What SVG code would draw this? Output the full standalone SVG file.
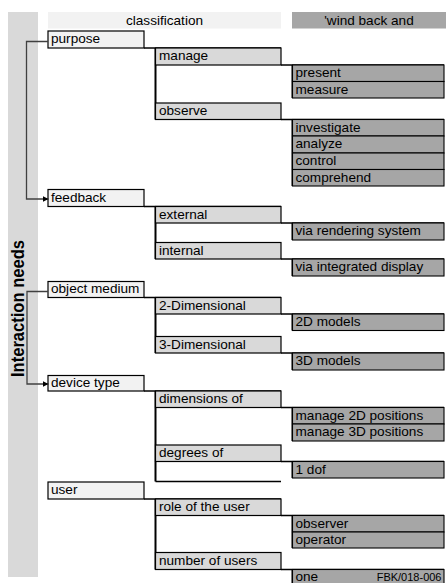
<svg xmlns="http://www.w3.org/2000/svg" width="446" height="583" viewBox="0 0 446 583">
<style>
.t{font-family:"Liberation Sans",Arial,sans-serif;font-size:13.6px;fill:#000}
.h{text-anchor:middle}
.l1{fill:#f2f2f2;stroke:#000;stroke-width:1.2}
.l2{fill:#d9d9d9;stroke:#000;stroke-width:1.2}
.l3{fill:#a6a6a6;stroke:#000;stroke-width:1.1}
.b{stroke:#000;stroke-width:1.6;fill:none}
.v{stroke:#000;stroke-width:2;fill:none}
.c{stroke:#404040;stroke-width:1.3;fill:none;marker-end:url(#ah)}
</style>
<defs>
<marker id="ah" markerUnits="userSpaceOnUse" markerWidth="6" markerHeight="6" refX="6" refY="3" orient="auto">
<path d="M0,0 L6,3 L0,6 z" fill="#000"/>
</marker>
</defs>
<rect x="0" y="0" width="446" height="583" fill="#fff"/>
<g id="band">
<rect x="8" y="12" width="30" height="565" fill="#d9d9d9"/>
<text class="t" transform="translate(24,308.5) rotate(-90)" text-anchor="middle" font-size="18" font-weight="bold" style="font-size:18px;font-weight:bold" textLength="137" lengthAdjust="spacingAndGlyphs">Interaction needs</text>
</g>
<g id="headers">
<rect x="48" y="12" width="233" height="16.5" fill="#f2f2f2"/>
<text class="t h" x="164.5" y="24.5">classification</text>
<rect x="292" y="12" width="154" height="16.5" fill="#a6a6a6"/>
<text class="t h" x="369" y="24.5">'wind back and</text>
</g>
<g id="borders">
<line class="b" x1="144" y1="48" x2="281" y2="48"/>
<line class="b" x1="281" y1="65" x2="444" y2="65"/>
<line class="b" x1="281" y1="119.5" x2="444" y2="119.5"/>
<line class="v" x1="155.5" y1="48" x2="155.5" y2="119.5"/>
<line class="v" x1="292.5" y1="65" x2="292.5" y2="98"/>
<line class="v" x1="292.5" y1="119.5" x2="292.5" y2="186"/>
<line class="b" x1="144" y1="206.5" x2="281" y2="206.5"/>
<line class="b" x1="281" y1="223" x2="444" y2="223"/>
<line class="b" x1="281" y1="259" x2="444" y2="259"/>
<line class="v" x1="155.5" y1="206.5" x2="155.5" y2="259"/>
<line class="v" x1="292.5" y1="223" x2="292.5" y2="240"/>
<line class="v" x1="292.5" y1="259" x2="292.5" y2="276"/>
<line class="b" x1="144" y1="297.5" x2="281" y2="297.5"/>
<line class="b" x1="281" y1="314" x2="444" y2="314"/>
<line class="b" x1="281" y1="353" x2="444" y2="353"/>
<line class="v" x1="155.5" y1="297.5" x2="155.5" y2="353"/>
<line class="v" x1="292.5" y1="314" x2="292.5" y2="330.5"/>
<line class="v" x1="292.5" y1="353" x2="292.5" y2="370"/>
<line class="b" x1="144" y1="391" x2="281" y2="391"/>
<line class="b" x1="281" y1="407.5" x2="444" y2="407.5"/>
<line class="b" x1="281" y1="461.5" x2="444" y2="461.5"/>
<line class="v" x1="155.5" y1="391" x2="155.5" y2="481.5"/>
<line class="b" x1="155.5" y1="481.5" x2="281" y2="481.5"/>
<line class="v" x1="292.5" y1="407.5" x2="292.5" y2="441"/>
<line class="v" x1="292.5" y1="461.5" x2="292.5" y2="478"/>
<line class="b" x1="144" y1="499" x2="281" y2="499"/>
<line class="b" x1="281" y1="515.5" x2="444" y2="515.5"/>
<line class="b" x1="281" y1="569.5" x2="444" y2="569.5"/>
<line class="v" x1="155.5" y1="499" x2="155.5" y2="569.5"/>
<line class="v" x1="292.5" y1="515.5" x2="292.5" y2="548"/>
<line class="v" x1="292.5" y1="569.5" x2="292.5" y2="583"/>
</g>
<g id="purpose"><rect class="l1" x="48" y="31" width="96" height="17"/><text class="t" x="51" y="43">purpose</text></g>
<g id="manage"><rect class="l2" x="155.5" y="48" width="125.5" height="17"/><text class="t" x="159" y="60">manage</text></g>
<g id="present"><rect class="l3" x="292.5" y="65" width="151.5" height="16.5"/><text class="t" x="295.5" y="77">present</text></g>
<g id="measure"><rect class="l3" x="292.5" y="81.5" width="151.5" height="16.5"/><text class="t" x="295.5" y="93.5">measure</text></g>
<g id="observe"><rect class="l2" x="155.5" y="103" width="125.5" height="16.5"/><text class="t" x="159" y="115">observe</text></g>
<g id="investigate"><rect class="l3" x="292.5" y="119.5" width="151.5" height="16.5"/><text class="t" x="295.5" y="131.5">investigate</text></g>
<g id="analyze"><rect class="l3" x="292.5" y="136" width="151.5" height="17"/><text class="t" x="295.5" y="148">analyze</text></g>
<g id="control"><rect class="l3" x="292.5" y="153" width="151.5" height="16.5"/><text class="t" x="295.5" y="165">control</text></g>
<g id="comprehend"><rect class="l3" x="292.5" y="169.5" width="151.5" height="16.5"/><text class="t" x="295.5" y="181.5">comprehend</text></g>
<g id="feedback"><rect class="l1" x="48" y="189.5" width="96" height="17"/><text class="t" x="51" y="201.5">feedback</text></g>
<g id="external"><rect class="l2" x="155.5" y="206.5" width="125.5" height="16.5"/><text class="t" x="159" y="218.5">external</text></g>
<g id="via-rendering"><rect class="l3" x="292.5" y="223" width="151.5" height="17"/><text class="t" x="295.5" y="235">via rendering system</text></g>
<g id="internal"><rect class="l2" x="155.5" y="242.5" width="125.5" height="16.5"/><text class="t" x="159" y="254.5">internal</text></g>
<g id="via-integrated"><rect class="l3" x="292.5" y="259" width="151.5" height="17"/><text class="t" x="295.5" y="271">via integrated display</text></g>
<g id="object-medium"><rect class="l1" x="48" y="281.5" width="96" height="16"/><text class="t" x="51" y="293">object medium</text></g>
<g id="two-dim"><rect class="l2" x="155.5" y="297.5" width="125.5" height="16.5"/><text class="t" x="159" y="309.5">2-Dimensional</text></g>
<g id="2d-models"><rect class="l3" x="292.5" y="314" width="151.5" height="16.5"/><text class="t" x="295.5" y="326">2D models</text></g>
<g id="three-dim"><rect class="l2" x="155.5" y="336.5" width="125.5" height="16.5"/><text class="t" x="159" y="348.5">3-Dimensional</text></g>
<g id="3d-models"><rect class="l3" x="292.5" y="353" width="151.5" height="17"/><text class="t" x="295.5" y="365">3D models</text></g>
<g id="device-type"><rect class="l1" x="48" y="375.5" width="96" height="15.5"/><text class="t" x="51" y="387">device type</text></g>
<g id="dimensions-of"><rect class="l2" x="155.5" y="391" width="125.5" height="16.5"/><text class="t" x="159" y="403">dimensions of</text></g>
<g id="manage-2d"><rect class="l3" x="292.5" y="407.5" width="151.5" height="16.5"/><text class="t" x="295.5" y="419.5">manage 2D positions</text></g>
<g id="manage-3d"><rect class="l3" x="292.5" y="424" width="151.5" height="17"/><text class="t" x="295.5" y="436">manage 3D positions</text></g>
<g id="degrees-of"><rect class="l2" x="155.5" y="445" width="125.5" height="16.5"/><text class="t" x="159" y="457">degrees of</text></g>
<g id="one-dof"><rect class="l3" x="292.5" y="461.5" width="151.5" height="16.5"/><text class="t" x="295.5" y="473.5">1 dof</text></g>
<g id="user"><rect class="l1" x="48" y="482" width="96" height="17"/><text class="t" x="51" y="494">user</text></g>
<g id="role"><rect class="l2" x="155.5" y="499" width="125.5" height="16.5"/><text class="t" x="159" y="511">role of the user</text></g>
<g id="observer"><rect class="l3" x="292.5" y="515.5" width="151.5" height="16.5"/><text class="t" x="295.5" y="527.5">observer</text></g>
<g id="operator"><rect class="l3" x="292.5" y="532" width="151.5" height="16"/><text class="t" x="295.5" y="544">operator</text></g>
<g id="number-of-users"><rect class="l2" x="155.5" y="552.5" width="125.5" height="17"/><text class="t" x="159" y="564.5">number of users</text></g>
<g id="one"><rect class="l3" x="292.5" y="569.5" width="151.5" height="17"/><text class="t" x="295.5" y="581">one</text><text class="t" x="441.5" y="581" text-anchor="end" style="font-size:11px">FBK/018-006</text></g>
<g id="connectors">
<path class="c" d="M48,41.5 H26.5 V199 H48.5"/>
<path class="c" d="M48,291.5 H27 V384 H48.5"/>
</g>
</svg>
